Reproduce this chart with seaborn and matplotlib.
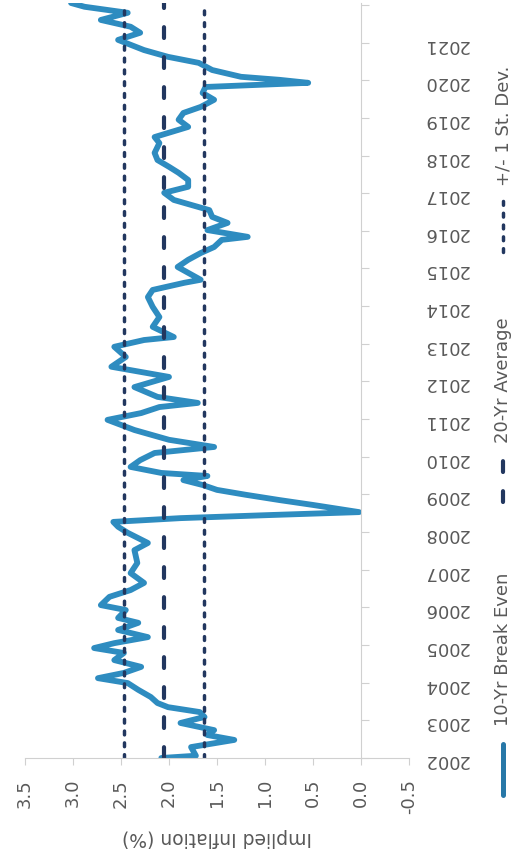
import numpy as np
import pandas as pd
import matplotlib
matplotlib.use("Agg")
import matplotlib.pyplot as plt
from matplotlib.lines import Line2D
import seaborn as sns

# 10-Yr break even inflation (decimal year, %)
years = [2002.00, 2002.06, 2002.29, 2002.48, 2002.61, 2002.74, 2002.93,
         2003.09, 2003.22, 2003.35, 2003.46, 2003.62, 2003.81, 2003.99,
         2004.12, 2004.26, 2004.42, 2004.60, 2004.79, 2004.92,
         2005.05, 2005.21, 2005.40, 2005.59, 2005.72, 2005.93,
         2006.06, 2006.28, 2006.46, 2006.65, 2006.91,
         2007.18, 2007.52, 2007.71, 2007.98,
         2008.14, 2008.27, 2008.37, 2008.45, 2008.53, 2008.72, 2008.85, 2008.99,
         2009.12, 2009.25, 2009.38, 2009.49, 2009.57, 2009.73, 2009.91,
         2010.10, 2010.26, 2010.45, 2010.71, 2010.98,
         2011.16, 2011.32, 2011.43, 2011.59, 2011.85,
         2012.12, 2012.39, 2012.65, 2012.92,
         2013.10, 2013.18, 2013.45, 2013.71, 2013.98,
         2014.24, 2014.43, 2014.62, 2014.70,
         2015.04, 2015.23, 2015.41, 2015.57, 2015.76, 2015.84,
         2016.02, 2016.21, 2016.37, 2016.55, 2016.82,
         2017.01, 2017.17, 2017.35, 2017.54, 2017.70, 2017.88,
         2018.07, 2018.33, 2018.49, 2018.76, 2018.95,
         2019.13, 2019.29, 2019.48, 2019.66, 2019.82, 2019.93,
         2020.01, 2020.09, 2020.27, 2020.46, 2020.62, 2020.80,
         2021.07, 2021.26, 2021.42, 2021.60, 2021.79, 2021.95, 2022.05]
breakeven = [2.08, 1.72, 1.77, 1.32, 1.60, 1.53, 1.88,
             1.63, 1.68, 2.01, 2.12, 2.19, 2.32, 2.43,
             2.74, 2.47, 2.29, 2.57, 2.47, 2.78,
             2.57, 2.22, 2.53, 2.32, 2.53, 2.45,
             2.71, 2.62, 2.40, 2.26, 2.40,
             2.33, 2.36, 2.22, 2.43,
             2.53, 2.58, 1.88, 0.97, 0.02, 0.50, 0.85, 1.20,
             1.50, 1.65, 1.85, 1.60, 2.08, 2.40, 2.30,
             2.15, 1.53, 2.00, 2.36, 2.64,
             2.29, 2.10, 1.70, 2.12, 2.36,
             2.00, 2.60, 2.45, 2.57,
             2.26, 1.95, 2.17, 2.10, 2.17,
             2.22, 2.17, 1.84, 1.67,
             1.91, 1.80, 1.67, 1.53, 1.45, 1.18,
             1.60, 1.39, 1.55, 1.58, 1.95,
             2.05, 1.80, 1.80, 1.90, 2.00, 2.12,
             2.15, 2.10, 2.15, 1.80, 1.90,
             1.85, 1.67, 1.53, 1.65, 1.62, 0.55,
             0.85, 1.25, 1.55, 1.69, 2.01, 2.26,
             2.53, 2.30, 2.40, 2.71, 2.43, 2.88, 3.02]

avg_20yr = 2.05
st_dev = 0.415

value_ticks = [3.5, 3.0, 2.5, 2.0, 1.5, 1.0, 0.5, 0.0, -0.5]
year_ticks = list(range(2002, 2023))
year_labels = [str(y) for y in range(2002, 2022)] + [""]

df = pd.DataFrame({"year": years, "breakeven": breakeven})

sns.set_style("white")
plt.rcParams["font.family"] = ["DejaVu Sans"]

text_color = "#595959"
axis_color = "#D0D0D0"
line_color = "#2E8CC0"
navy = "#22375F"

fig = plt.figure(figsize=(5.17, 8.59), dpi=100)
ax = fig.add_axes([25 / 517, 1 - 758 / 859, 384 / 517, 755 / 859])

# chart is drawn turned a quarter turn: values run across, years run up
sns.lineplot(data=df, x="breakeven", y="year", orient="y", sort=False,
             estimator=None, color=line_color, linewidth=4.2, ax=ax)
ax.lines[0].set_solid_joinstyle("round")

ax.axvline(avg_20yr, color=navy, linewidth=3, dashes=(2.6, 4.6),
           dash_capstyle="round")
for v in [avg_20yr + st_dev, avg_20yr - st_dev]:
    ax.axvline(v, color=navy, linewidth=2.5, dashes=(1.1, 2.3),
               dash_capstyle="round")

ax.set_xlim(3.5, -0.5)
ax.set_ylim(2002, 2022.05)

ax.spines["top"].set_visible(False)
ax.spines["left"].set_visible(False)
ax.spines["right"].set_position(("data", 0))
ax.spines["right"].set_color(axis_color)
ax.spines["bottom"].set_color(axis_color)
ax.yaxis.tick_right()

ax.set_xticks(value_ticks)
ax.set_xticklabels([f"{v:.1f}" for v in value_ticks])
ax.set_yticks(year_ticks)
ax.set_yticklabels(year_labels)

ax.tick_params(axis="x", direction="out", length=5, color=axis_color,
               labelcolor=text_color, labelsize=13, pad=10, bottom=True,
               labelrotation=90)
ax.tick_params(axis="y", direction="out", length=6, color=axis_color,
               labelcolor=text_color, labelsize=13, pad=39, right=True,
               labelrotation=180)

ax.set_xlabel("Implied Inflation (%)", rotation=180, fontsize=13.5,
              color=text_color, labelpad=10)
ax.set_ylabel("")

# legend, laid out by hand so it turns with the chart
lx = 503 / 517


def fy(p):
    return 1 - p / 859


fig.add_artist(Line2D([lx, lx], [fy(795), fy(744)], transform=fig.transFigure,
                      color="#2878A8", linewidth=3.6))
fig.text(lx, fy(726), "10-Yr Break Even", rotation=90, ha="center",
         va="bottom", fontsize=13, color=text_color)
fig.add_artist(Line2D([lx, lx], [fy(502), fy(457)], transform=fig.transFigure,
                      color=navy, linewidth=3, dashes=(2.6, 4.6),
                      dash_capstyle="round"))
fig.text(lx, fy(443), "20-Yr Average", rotation=90, ha="center",
         va="bottom", fontsize=13, color=text_color)
fig.add_artist(Line2D([lx, lx], [fy(252), fy(196)], transform=fig.transFigure,
                      color=navy, linewidth=2.5, dashes=(1.1, 2.3),
                      dash_capstyle="round"))
fig.text(lx, fy(186), "+/- 1 St. Dev.", rotation=90, ha="center",
         va="bottom", fontsize=13, color=text_color)

fig.savefig("out.png", dpi=100)
